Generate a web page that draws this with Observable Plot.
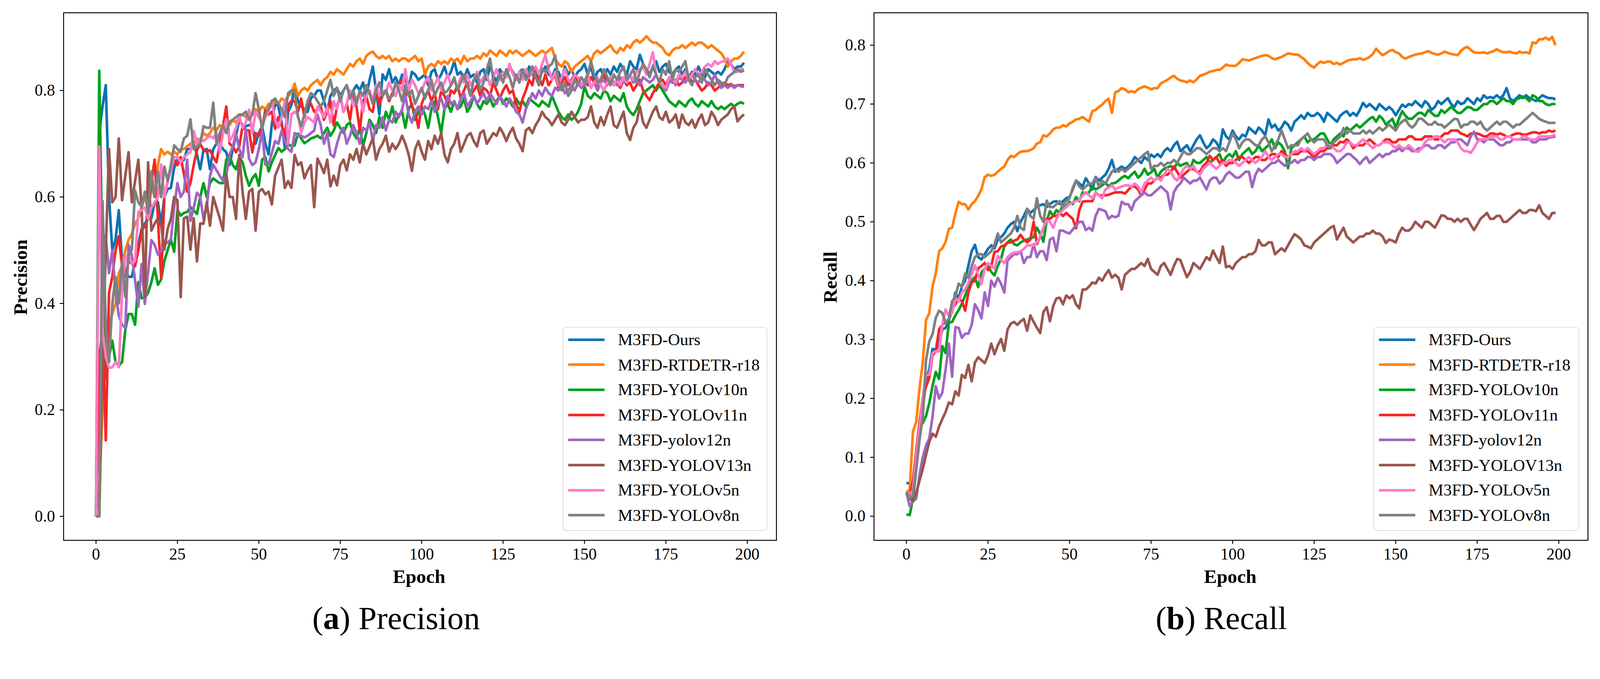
<!DOCTYPE html>
<html>
<head>
<meta charset="utf-8">
<script src="https://cdn.jsdelivr.net/npm/d3@7"></script>
<script src="https://cdn.jsdelivr.net/npm/@observablehq/plot@0.6"></script>
<style>
  html, body { margin: 0; padding: 0; background: #fff; overflow: hidden; }
  #page { position: relative; width: 4314px; height: 1739px; overflow: hidden; background: #fff;
          font-family: "Liberation Serif", "Times New Roman", serif; color: #000; transform-origin: 0 0; }
  .panel { position: absolute; top: 0; }
  .lbl { position: absolute; white-space: nowrap; line-height: 1; transform: translate(-50%, -50%); }
  .ylbl { transform: translate(-50%, -50%) rotate(-90deg); }
  .legend { position: absolute; box-sizing: border-box; border: 2px solid #d9d9d9; border-radius: 10px;
            background: rgba(255,255,255,0.85); }
  .legend .sw { position: absolute; height: 7px; }
  .legend .tx { position: absolute; height: 60px; line-height: 60px; font-size: 45px; white-space: nowrap; }
</style>
</head>
<body>
<div id="page"></div>
<script>
// ---------- categories / styles ----------
const models = ["M3FD-Ours", "M3FD-RTDETR-r18", "M3FD-YOLOv10n", "M3FD-YOLOv11n", "M3FD-yolov12n", "M3FD-YOLOV13n", "M3FD-YOLOv5n", "M3FD-YOLOv8n"];
const colors = ["#0a72b4", "#ff800e", "#00a01e", "#f82424", "#a066c2", "#9a564e", "#ff7ac8", "#808080"];
const xTicks = [0, 25, 50, 75, 100, 125, 150, 175, 200];
const precisionTicks = [0.0, 0.2, 0.4, 0.6, 0.8];
const recallTicks = [0.0, 0.1, 0.2, 0.3, 0.4, 0.5, 0.6, 0.7, 0.8];

// ---------- Precision (epochs 0..199) ----------
const precisionOurs = [
0, .72, .77, .81, .60, .50, .52, .575, .48, .46,
.45, .45, .48, .51, .54, .55, .56, .56, .59, .59,
.55, .60, .615, .617, .655, .67, .665, .67, .69, .69,
.70, .68, .652, .688, .69, .652, .69, .70, .70, .69,
.684, .66, .69, .715, .745, .735, .733, .735, .733, .70,
.72, .733, .70, .68, .737, .777, .77, .74, .692, .76,
.773, .81, .78, .77, .765, .76, .786, .79, .80, .80,
.78, .76, .79, .80, .805, .79, .80, .81, .79, .80,
.81, .80, .815, .79, .82, .845, .80, .755, .83, .82,
.84, .815, .825, .81, .83, .82, .805, .835, .83, .82,
.825, .83, .81, .835, .84, .82, .83, .845, .825, .835,
.855, .83, .835, .82, .84, .825, .83, .815, .835, .84,
.82, .845, .83, .815, .84, .83, .825, .845, .835, .82,
.835, .84, .825, .845, .83, .84, .82, .835, .845, .83,
.825, .84, .835, .82, .845, .83, .84, .825, .835, .84,
.85, .83, .845, .82, .835, .84, .825, .84, .83, .845,
.835, .85, .84, .83, .855, .845, .84, .867, .85, .84,
.83, .845, .855, .835, .845, .85, .835, .83, .84, .845,
.83, .84, .82, .835, .83, .845, .83, .825, .84, .835,
.83, .835, .83, .84, .855, .85, .84, .845, .845, .852];
const precisionRTDETR = [
.003, .05, .20, .30, .36, .38, .40, .457, .47, .50,
.52, .53, .55, .56, .58, .60, .58, .62, .60, .66,
.69, .68, .685, .68, .685, .68, .69, .69, .695, .70,
.70, .71, .705, .72, .715, .72, .73, .725, .735, .73,
.74, .735, .745, .74, .75, .755, .75, .76, .755, .765,
.76, .77, .765, .775, .77, .78, .775, .785, .78, .79,
.795, .813, .79, .80, .805, .80, .81, .815, .82, .81,
.82, .825, .835, .83, .84, .835, .83, .84, .85, .845,
.855, .86, .85, .865, .87, .873, .865, .86, .865, .86,
.865, .855, .86, .855, .86, .86, .855, .86, .865, .855,
.86, .83, .845, .85, .845, .855, .85, .855, .85, .86,
.855, .86, .85, .865, .855, .86, .86, .865, .86, .87,
.865, .875, .87, .865, .875, .87, .865, .875, .87, .875,
.87, .865, .87, .875, .87, .865, .87, .875, .87, .875,
.88, .86, .85, .845, .855, .85, .835, .845, .85, .855,
.86, .865, .855, .87, .875, .87, .875, .88, .885, .875,
.87, .88, .875, .885, .88, .89, .895, .89, .895, .902,
.895, .89, .89, .885, .88, .87, .866, .875, .88, .88,
.885, .88, .885, .89, .885, .89, .89, .885, .88, .885,
.88, .875, .87, .86, .845, .855, .86, .86, .865, .873];
const precisionV10 = [
0, .837, .45, .26, .30, .33, .29, .283, .29, .35,
.38, .38, .36, .44, .41, .41, .42, .44, .466, .435,
.445, .48, .50, .52, .497, .576, .565, .57, .572, .581,
.575, .568, .60, .626, .60, .626, .635, .63, .626, .626,
.67, .679, .66, .652, .675, .665, .64, .621, .635, .643,
.621, .67, .675, .648, .665, .679, .692, .685, .69, .70,
.695, .697, .719, .71, .701, .705, .71, .712, .715, .71,
.72, .73, .715, .725, .74, .73, .72, .735, .74, .72,
.71, .73, .696, .72, .745, .735, .72, .75, .73, .76,
.745, .77, .74, .755, .76, .73, .765, .775, .745, .76,
.77, .755, .73, .765, .78, .75, .72, .765, .775, .76,
.78, .765, .77, .785, .76, .77, .79, .775, .765, .78,
.775, .785, .77, .78, .79, .775, .785, .78, .77, .785,
.775, .78, .77, .785, .78, .775, .77, .78, .775, .77,
.79, .775, .76, .75, .745, .755, .745, .75, .76, .775,
.808, .79, .785, .795, .79, .785, .80, .795, .78, .79,
.785, .78, .795, .77, .76, .754, .765, .78, .795, .80,
.805, .81, .80, .81, .80, .79, .78, .775, .77, .78,
.775, .77, .78, .785, .775, .77, .78, .775, .77, .78,
.77, .765, .77, .765, .77, .775, .77, .775, .778, .775];
const precisionV11 = [
0, .30, .35, .143, .42, .45, .50, .526, .47, .45,
.48, .475, .47, .50, .537, .545, .559, .626, .67, .56,
.448, .60, .63, .65, .67, .66, .675, .643, .61, .626,
.66, .688, .70, .688, .685, .688, .675, .665, .70, .733,
.77, .70, .695, .684, .695, .733, .725, .725, .684, .72,
.715, .73, .763, .755, .76, .728, .75, .735, .715, .773,
.78, .78, .76, .785, .75, .78, .775, .76, .765, .77,
.745, .76, .78, .735, .77, .79, .76, .775, .745, .79,
.77, .725, .78, .79, .765, .76, .80, .775, .79, .80,
.78, .795, .79, .81, .82, .79, .80, .77, .76, .73,
.775, .79, .80, .78, .795, .765, .80, .79, .775, .80,
.795, .81, .785, .80, .815, .79, .80, .81, .79, .805,
.80, .79, .815, .80, .785, .80, .81, .795, .80, .775,
.76, .785, .80, .82, .81, .844, .825, .81, .83, .81,
.82, .83, .805, .815, .825, .81, .82, .83, .815, .805,
.82, .81, .825, .815, .805, .82, .83, .815, .82, .81,
.815, .805, .82, .81, .815, .80, .81, .82, .80, .79,
.782, .795, .805, .815, .82, .81, .825, .815, .82, .81,
.815, .825, .83, .815, .82, .81, .80, .805, .815, .81,
.80, .805, .81, .815, .81, .812, .808, .81, .81, .81];
const precisionV12 = [
0, .003, .30, .527, .457, .50, .42, .377, .36, .354,
.51, .49, .443, .394, .474, .399, .46, .519, .51, .492,
.50, .51, .515, .52, .58, .626, .60, .61, .67, .555,
.58, .608, .60, .559, .58, .639, .661, .65, .64, .63,
.64, .679, .695, .719, .69, .675, .728, .672, .66, .665,
.69, .724, .661, .661, .683, .705, .70, .724, .705, .69,
.685, .72, .715, .715, .712, .715, .72, .725, .755, .735,
.70, .72, .68, .675, .70, .72, .73, .70, .715, .735,
.72, .70, .73, .725, .74, .705, .735, .73, .75, .725,
.745, .74, .76, .75, .765, .79, .755, .74, .76, .77,
.755, .77, .765, .78, .76, .775, .785, .765, .79, .775,
.78, .765, .785, .795, .77, .78, .79, .775, .785, .795,
.78, .795, .785, .775, .79, .78, .77, .785, .775, .76,
.755, .74, .765, .78, .795, .785, .80, .79, .805, .795,
.79, .805, .80, .81, .795, .80, .81, .80, .815, .805,
.81, .82, .805, .815, .80, .815, .82, .81, .825, .815,
.81, .825, .815, .82, .83, .815, .82, .81, .825, .82,
.815, .82, .83, .815, .81, .80, .815, .82, .81, .825,
.82, .815, .825, .83, .82, .815, .825, .82, .81, .815,
.83, .815, .805, .81, .805, .81, .805, .81, .808, .807];
const precisionV13 = [
0, 0, .30, .50, .69, .59, .60, .71, .594, .64,
.684, .59, .63, .67, .581, .412, .665, .537, .55, .56,
.546, .501, .54, .559, .60, .594, .412, .56, .563, .501,
.56, .479, .55, .55, .59, .546, .60, .58, .56, .537,
.643, .60, .60, .559, .679, .61, .559, .61, .615, .537,
.61, .615, .605, .61, .586, .64, .655, .67, .617, .63,
.617, .679, .66, .665, .635, .65, .66, .581, .672, .66,
.645, .67, .62, .64, .622, .66, .67, .65, .68, .67,
.69, .665, .70, .68, .695, .71, .67, .69, .70, .715,
.685, .70, .69, .70, .715, .70, .68, .649, .69, .705,
.685, .67, .705, .69, .715, .70, .72, .68, .665, .69,
.70, .72, .685, .70, .715, .72, .705, .695, .72, .725,
.70, .71, .72, .715, .73, .72, .705, .72, .73, .71,
.70, .686, .725, .73, .72, .735, .745, .76, .75, .745,
.735, .745, .755, .74, .735, .745, .76, .75, .74, .745,
.745, .75, .77, .74, .73, .75, .735, .755, .77, .735,
.73, .745, .76, .72, .707, .73, .74, .77, .74, .73,
.745, .76, .77, .75, .745, .76, .74, .745, .755, .73,
.755, .74, .735, .745, .73, .745, .755, .735, .74, .76,
.75, .735, .745, .75, .755, .765, .77, .742, .75, .755];
const precisionV5 = [
0, .695, .35, .30, .279, .28, .29, .28, .42, .488,
.49, .475, .48, .572, .575, .58, .559, .58, .59, .60,
.661, .60, .63, .65, .675, .675, .665, .675, .68, .685,
.724, .70, .71, .705, .71, .715, .71, .72, .684, .72,
.746, .705, .715, .73, .75, .73, .74, .764, .72, .76,
.75, .74, .75, .76, .781, .745, .73, .75, .78, .70,
.755, .76, .755, .72, .74, .75, .745, .74, .77, .76,
.75, .77, .74, .78, .765, .79, .76, .775, .80, .77,
.785, .795, .76, .79, .80, .78, .81, .79, .80, .795,
.815, .80, .79, .81, .80, .84, .80, .82, .81, .795,
.80, .815, .825, .80, .81, .825, .80, .815, .83, .81,
.82, .805, .825, .815, .83, .81, .82, .835, .815, .825,
.83, .81, .825, .84, .82, .835, .825, .85, .83, .82,
.835, .82, .84, .825, .835, .845, .83, .85, .866, .84,
.82, .835, .81, .825, .84, .82, .815, .83, .825, .81,
.82, .83, .805, .815, .825, .81, .80, .815, .825, .81,
.82, .81, .825, .815, .83, .82, .835, .84, .845, .83,
.85, .872, .83, .815, .81, .805, .825, .82, .815, .83,
.825, .835, .82, .83, .84, .83, .835, .845, .85, .845,
.855, .85, .854, .855, .86, .85, .835, .835, .84, .84];
const precisionV8 = [
0, 0, .592, .36, .29, .40, .45, .40, .479, .412,
.49, .501, .612, .59, .581, .61, .57, .648, .60, .648,
.60, .657, .63, .66, .697, .69, .685, .71, .715, .746,
.69, .695, .70, .733, .73, .73, .777, .70, .72, .735,
.72, .741, .745, .75, .755, .755, .76, .745, .755, .795,
.765, .728, .755, .765, .78, .785, .775, .765, .75, .795,
.80, .80, .75, .733, .755, .78, .795, .79, .78, .77,
.78, .80, .82, .79, .805, .78, .80, .81, .785, .80,
.775, .80, .79, .81, .795, .775, .80, .815, .79, .80,
.785, .79, .815, .80, .78, .81, .79, .80, .775, .79,
.805, .785, .80, .82, .79, .805, .815, .795, .80, .81,
.825, .80, .815, .83, .81, .79, .82, .83, .80, .815,
.84, .86, .82, .81, .83, .815, .84, .825, .805, .83,
.815, .84, .82, .83, .845, .825, .81, .84, .835, .845,
.85, .866, .82, .80, .815, .79, .80, .82, .81, .825,
.815, .83, .855, .83, .815, .82, .84, .825, .81, .83,
.82, .835, .845, .82, .83, .84, .815, .835, .85, .84,
.825, .845, .83, .815, .84, .83, .855, .82, .84, .835,
.845, .855, .82, .81, .825, .83, .815, .84, .83, .82,
.81, .82, .815, .81, .825, .83, .835, .84, .835, .838];

// ---------- Recall (epochs 0..199) ----------
const recallOurs = [
.057, .055, .03, .08, .13, .18, .23, .25, .284, .283,
.293, .317, .32, .333, .35, .38, .37, .39, .40, .426,
.45, .461, .44, .436, .445, .454, .46, .455, .47, .474,
.48, .49, .496, .50, .484, .50, .51, .522, .515, .52,
.525, .528, .53, .525, .53, .534, .535, .53, .535, .54,
.542, .555, .57, .565, .56, .574, .565, .555, .576, .57,
.575, .58, .59, .605, .585, .59, .594, .59, .594, .60,
.61, .605, .60, .61, .605, .614, .61, .615, .61, .62,
.625, .62, .63, .636, .62, .625, .63, .62, .63, .64,
.647, .635, .625, .63, .64, .635, .625, .657, .645, .64,
.655, .645, .64, .648, .645, .66, .655, .65, .66, .655,
.647, .674, .66, .665, .655, .66, .67, .665, .655, .67,
.675, .681, .675, .685, .68, .68, .685, .68, .67, .685,
.68, .675, .67, .68, .685, .688, .68, .685, .68, .69,
.702, .695, .70, .695, .69, .70, .695, .69, .695, .69,
.681, .69, .699, .695, .70, .698, .705, .70, .695, .705,
.70, .69, .695, .705, .70, .705, .71, .70, .695, .705,
.70, .702, .71, .705, .70, .71, .705, .715, .71, .712,
.71, .715, .71, .715, .727, .71, .705, .71, .715, .71,
.715, .71, .708, .705, .71, .715, .712, .71, .71, .708];
const recallRTDETR = [
.041, .045, .144, .16, .217, .261, .333, .345, .39, .413,
.45, .455, .466, .488, .49, .514, .534, .53, .53, .521,
.53, .535, .544, .555, .576, .58, .578, .58, .585, .59,
.594, .605, .612, .61, .615, .619, .62, .62, .622, .625,
.633, .635, .647, .645, .65, .657, .66, .66, .664, .662,
.667, .67, .674, .675, .678, .674, .67, .688, .69, .695,
.699, .705, .709, .685, .72, .722, .727, .725, .72, .722,
.72, .725, .728, .73, .728, .725, .727, .727, .735, .738,
.741, .745, .748, .743, .74, .739, .737, .74, .737, .742,
.748, .75, .752, .755, .756, .758, .758, .762, .767, .765,
.765, .765, .77, .776, .775, .774, .776, .778, .78, .782,
.783, .782, .778, .776, .778, .78, .783, .786, .785, .784,
.784, .78, .776, .77, .765, .762, .768, .772, .77, .772,
.772, .768, .77, .767, .77, .773, .775, .776, .776, .778,
.775, .777, .78, .785, .794, .788, .783, .786, .79, .792,
.788, .786, .78, .777, .78, .782, .784, .785, .786, .788,
.79, .787, .785, .784, .786, .789, .787, .785, .784, .783,
.79, .795, .797, .792, .788, .787, .787, .788, .786, .788,
.79, .793, .79, .788, .788, .789, .787, .786, .789, .787,
.788, .786, .805, .803, .81, .81, .813, .809, .814, .80];
const recallV10 = [
.003, .002, .03, .08, .156, .158, .17, .192, .221, .245,
.233, .289, .277, .329, .33, .341, .35, .361, .375, .389,
.40, .406, .389, .414, .42, .425, .415, .409, .425, .437,
.458, .465, .47, .462, .46, .465, .468, .47, .472, .474,
.49, .48, .466, .502, .518, .51, .52, .515, .53, .525,
.534, .53, .542, .535, .55, .548, .55, .56, .555, .558,
.562, .566, .56, .565, .566, .57, .575, .578, .574, .58,
.585, .575, .58, .59, .58, .584, .59, .575, .585, .59,
.592, .595, .59, .60, .595, .598, .60, .59, .605, .60,
.60, .605, .61, .60, .605, .61, .615, .60, .61, .615,
.61, .62, .605, .615, .62, .625, .615, .62, .63, .62,
.625, .63, .64, .625, .635, .63, .62, .591, .625, .63,
.635, .64, .645, .635, .64, .64, .645, .65, .65, .64,
.63, .64, .645, .65, .645, .66, .655, .66, .665, .66,
.665, .67, .675, .678, .67, .68, .675, .665, .67, .675,
.66, .675, .688, .68, .675, .675, .68, .685, .685, .68,
.69, .685, .68, .68, .69, .685, .69, .695, .69, .685,
.685, .69, .695, .694, .69, .69, .695, .70, .70, .705,
.705, .70, .705, .71, .705, .705, .70, .708, .71, .713,
.71, .705, .715, .712, .705, .705, .70, .698, .70, .70];
const recallV11 = [
.04, .035, .06, .11, .16, .20, .22, .235, .273, .28,
.317, .325, .33, .335, .353, .36, .37, .365, .349, .38,
.397, .40, .421, .425, .43, .418, .425, .449, .45, .458,
.46, .465, .465, .468, .47, .478, .47, .465, .47, .50,
.462, .475, .49, .505, .505, .51, .51, .515, .51, .515,
.51, .505, .489, .52, .534, .535, .535, .535, .55, .545,
.545, .545, .546, .548, .55, .55, .55, .548, .554, .56,
.56, .555, .545, .555, .565, .565, .57, .575, .575, .58,
.58, .585, .594, .585, .575, .58, .585, .59, .59, .585,
.585, .595, .60, .612, .605, .61, .60, .605, .595, .60,
.60, .605, .61, .61, .605, .60, .605, .61, .61, .605,
.605, .61, .615, .615, .61, .62, .615, .61, .615, .615,
.615, .62, .62, .62, .615, .61, .615, .62, .62, .625,
.625, .63, .63, .636, .635, .64, .635, .625, .63, .63,
.63, .635, .64, .635, .63, .63, .635, .64, .64, .635,
.635, .64, .64, .64, .645, .645, .64, .64, .64, .645,
.645, .645, .64, .64, .645, .65, .65, .655, .655, .655,
.65, .648, .645, .65, .65, .65, .648, .645, .645, .65,
.65, .648, .65, .648, .645, .645, .648, .65, .65, .648,
.648, .65, .652, .652, .65, .652, .652, .655, .653, .655];
const recallV12 = [
.04, .017, .025, .03, .07, .10, .12, .132, .169, .221,
.20, .21, .249, .293, .237, .321, .32, .303, .31, .31,
.325, .36, .35, .336, .38, .357, .40, .39, .405, .395,
.38, .434, .44, .445, .445, .45, .43, .44, .44, .462,
.44, .45, .45, .435, .47, .473, .45, .485, .485, .482,
.48, .487, .494, .50, .50, .486, .49, .485, .51, .522,
.52, .518, .505, .51, .508, .51, .534, .53, .53, .52,
.535, .54, .545, .55, .545, .545, .55, .555, .56, .555,
.55, .521, .55, .56, .565, .575, .57, .565, .57, .57,
.575, .565, .555, .57, .575, .575, .565, .57, .58, .585,
.58, .575, .575, .58, .585, .585, .559, .58, .59, .585,
.59, .595, .60, .60, .605, .60, .595, .60, .60, .605,
.60, .605, .605, .61, .61, .605, .61, .61, .615, .615,
.615, .61, .60, .605, .61, .615, .615, .61, .605, .598,
.605, .61, .60, .605, .61, .615, .61, .615, .615, .62,
.62, .625, .62, .625, .625, .62, .62, .625, .625, .63,
.63, .625, .625, .63, .63, .625, .63, .635, .635, .64,
.64, .635, .63, .645, .653, .64, .64, .635, .64, .64,
.64, .635, .63, .63, .635, .635, .64, .64, .64, .64,
.64, .64, .635, .635, .64, .64, .64, .643, .644, .645];
const recallV13 = [
.04, .03, .025, .04, .06, .08, .104, .126, .14, .135,
.152, .165, .177, .193, .19, .212, .205, .24, .235, .257,
.229, .261, .27, .265, .26, .273, .293, .275, .29, .301,
.281, .317, .327, .33, .325, .331, .335, .315, .341, .33,
.32, .311, .347, .355, .331, .357, .37, .371, .36, .375,
.37, .375, .36, .353, .385, .385, .39, .397, .395, .405,
.40, .41, .418, .405, .41, .405, .385, .41, .415, .42,
.42, .425, .43, .425, .437, .42, .415, .41, .425, .43,
.42, .41, .425, .437, .435, .42, .406, .415, .43, .425,
.42, .43, .44, .435, .451, .44, .43, .458, .423, .425,
.42, .43, .435, .44, .44, .445, .445, .45, .469, .46,
.46, .465, .465, .445, .45, .455, .45, .46, .47, .479,
.475, .47, .46, .458, .455, .465, .47, .475, .48, .485,
.49, .493, .47, .48, .49, .475, .47, .465, .47, .475,
.475, .48, .48, .485, .48, .48, .475, .464, .47, .468,
.465, .48, .49, .485, .485, .49, .50, .495, .49, .50,
.50, .495, .49, .50, .511, .51, .505, .505, .50, .505,
.50, .505, .505, .495, .486, .495, .505, .51, .515, .505,
.505, .51, .51, .50, .50, .505, .51, .515, .52, .515,
.515, .52, .52, .518, .528, .515, .51, .505, .515, .515];
const recallV5 = [
.04, .035, .045, .10, .15, .20, .24, .24, .277, .28,
.28, .326, .351, .34, .345, .37, .365, .38, .385, .397,
.41, .426, .41, .394, .42, .43, .425, .42, .442, .435,
.43, .44, .445, .448, .448, .45, .454, .46, .46, .46,
.465, .475, .49, .502, .50, .49, .505, .515, .52, .525,
.53, .533, .535, .537, .545, .55, .545, .54, .55, .545,
.54, .555, .558, .562, .555, .558, .56, .562, .562, .56,
.565, .56, .55, .565, .57, .575, .57, .575, .57, .58,
.59, .585, .575, .57, .58, .59, .595, .59, .595, .585,
.58, .59, .595, .60, .595, .59, .595, .60, .60, .605,
.605, .60, .595, .60, .605, .61, .605, .60, .605, .61,
.62, .61, .605, .61, .615, .615, .61, .61, .615, .62,
.62, .625, .62, .625, .62, .615, .62, .625, .625, .63,
.63, .625, .62, .62, .625, .635, .635, .63, .63, .635,
.64, .635, .63, .625, .63, .63, .635, .635, .635, .63,
.625, .63, .625, .625, .63, .625, .62, .619, .625, .635,
.64, .64, .645, .645, .64, .635, .64, .64, .64, .635,
.625, .62, .62, .617, .625, .635, .64, .64, .64, .645,
.645, .645, .64, .64, .645, .645, .64, .64, .64, .645,
.645, .64, .64, .64, .645, .645, .645, .645, .646, .648];
const recallV8 = [
.041, .031, .035, .08, .13, .168, .265, .297, .309, .337,
.349, .345, .329, .335, .365, .373, .395, .39, .412, .405,
.425, .44, .445, .445, .44, .445, .45, .462, .48, .465,
.47, .475, .48, .49, .51, .49, .486, .522, .51, .505,
.54, .51, .50, .536, .525, .525, .53, .535, .525, .535,
.54, .558, .57, .56, .555, .56, .565, .565, .575, .56,
.57, .565, .575, .585, .59, .585, .59, .585, .59, .595,
.60, .605, .61, .615, .619, .59, .595, .595, .60, .595,
.60, .60, .605, .60, .61, .62, .615, .615, .62, .625,
.625, .62, .615, .62, .625, .625, .62, .625, .62, .635,
.65, .64, .625, .635, .64, .64, .635, .63, .63, .64,
.645, .635, .62, .63, .64, .655, .64, .625, .63, .63,
.63, .64, .645, .65, .64, .635, .64, .64, .64, .63,
.625, .635, .64, .645, .659, .65, .655, .65, .65, .65,
.655, .65, .655, .65, .655, .66, .655, .66, .665, .66,
.655, .665, .67, .674, .665, .66, .665, .675, .675, .67,
.665, .665, .67, .665, .665, .66, .665, .67, .675, .674,
.66, .665, .665, .67, .67, .665, .67, .66, .655, .66,
.665, .67, .665, .67, .67, .665, .66, .665, .665, .67,
.675, .68, .685, .68, .675, .672, .67, .668, .668, .668];

const precisionSeries = [precisionOurs, precisionRTDETR, precisionV10, precisionV11, precisionV12, precisionV13, precisionV5, precisionV8];
const recallSeries = [recallOurs, recallRTDETR, recallV10, recallV11, recallV12, recallV13, recallV5, recallV8];

function toRows(series) {
  const rows = [];
  series.forEach((vals, i) => vals.forEach((v, e) => rows.push({epoch: e, value: v, model: models[i]})));
  return rows;
}

const FONT = "'Liberation Serif', 'Times New Roman', serif";

function makePlot(rows, {width, marginLeft, marginRight, yDomain, yTicks}) {
  return Plot.plot({
    width, height: 1560,
    marginLeft, marginRight, marginTop: 34, marginBottom: 103,
    style: {fontFamily: FONT, fontSize: "44px", color: "#000", background: "transparent", overflow: "visible"},
    x: {domain: [-9.95, 208.95], label: null},
    y: {domain: yDomain, label: null},
    color: {domain: models, range: colors},
    marks: [
      Plot.line(rows, {x: "epoch", y: "value", z: "model", stroke: "model", strokeWidth: 7,
                       strokeLinejoin: "round", strokeLinecap: "butt"}),
      Plot.frame({stroke: "#000", strokeWidth: 2.5}),
      Plot.axisX({ticks: xTicks, tickSize: 10, tickPadding: 11, strokeWidth: 2.5, label: null, tickFormat: d3.format("d")}),
      Plot.axisY({ticks: yTicks, tickSize: 10, tickPadding: 13, strokeWidth: 2.5, label: null, tickFormat: d3.format(".1f")})
    ]
  });
}

const page = document.getElementById("page");

function addPanel(svg, left) {
  const wrap = document.createElement("div");
  wrap.className = "panel";
  wrap.style.left = left + "px";
  wrap.appendChild(svg);
  page.appendChild(wrap);
}

function addLabel(text, x, y, size, weight, rotate) {
  const d = document.createElement("div");
  d.className = "lbl" + (rotate ? " ylbl" : "");
  d.style.left = x + "px";
  d.style.top = y + "px";
  d.style.fontSize = size + "px";
  d.style.fontWeight = weight;
  d.innerHTML = text;
  page.appendChild(d);
}

function addLegend(left, top, width, height) {
  const box = document.createElement("div");
  box.className = "legend";
  box.style.left = left + "px";
  box.style.top = top + "px";
  box.style.width = width + "px";
  box.style.height = height + "px";
  models.forEach((m, i) => {
    const cy = 32 + i * 67.7;
    const sw = document.createElement("div");
    sw.className = "sw";
    sw.style.left = "13px";
    sw.style.width = "98px";
    sw.style.top = (cy - 3.5) + "px";
    sw.style.background = colors[i];
    box.appendChild(sw);
    const tx = document.createElement("div");
    tx.className = "tx";
    tx.style.left = "147px";
    tx.style.top = (cy - 30) + "px";
    tx.textContent = m;
    box.appendChild(tx);
  });
  page.appendChild(box);
}

// Precision panel
addPanel(makePlot(toRows(precisionSeries), {width: 2160, marginLeft: 171, marginRight: 67,
  yDomain: [-0.045, 0.946], yTicks: precisionTicks}), 0);
// Recall panel
addPanel(makePlot(toRows(recallSeries), {width: 2154, marginLeft: 196, marginRight: 33,
  yDomain: [-0.041, 0.855], yTicks: recallTicks}), 2160);

addLegend(1517, 882, 552, 550);
addLegend(3703, 882, 555, 550);

addLabel("Precision", 56, 748, 52, "bold", true);
addLabel("Epoch", 1130, 1555, 52, "bold", false);
addLabel("Recall", 2239, 748, 52, "bold", true);
addLabel("Epoch", 3317, 1555, 52, "bold", false);
addLabel("(<b>a</b>) Precision", 1068, 1668, 88, "normal", false);
addLabel("(<b>b</b>) Recall", 3293, 1668, 88, "normal", false);

// Fit the 4314x1739 layout into whatever CSS viewport the window provides.
function fit() {
  const s = Math.min(window.innerWidth / 4314, window.innerHeight / 1739);
  page.style.transform = (s > 0 && Math.abs(s - 1) > 0.002) ? `scale(${s})` : "none";
}
fit();
window.addEventListener("resize", fit);
</script>
</body>
</html>
